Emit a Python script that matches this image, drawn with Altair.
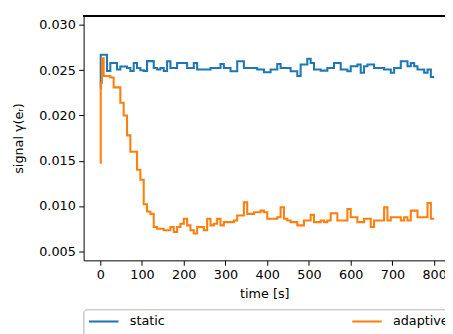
import altair as alt
import pandas as pd

time = [0, 1, 4] + list(range(8, 801, 8))

static = [
    0.0230, 0.0267, 0.0267,
    0.0267, 0.0249, 0.0258, 0.0258, 0.02507, 0.0254, 0.0254, 0.02525, 0.0249, 0.0258,
    0.02525, 0.0250, 0.0249, 0.0260, 0.0260, 0.02525, 0.02507, 0.02525, 0.0249, 0.02598,
    0.02525, 0.02525, 0.0258, 0.0258, 0.0258, 0.02525, 0.02525, 0.0258, 0.02507, 0.02507,
    0.02507, 0.02507, 0.02525, 0.02525, 0.02525, 0.02569, 0.02525, 0.02525, 0.02489, 0.02489,
    0.02598, 0.02598, 0.02525, 0.02525, 0.02525, 0.02525, 0.02507, 0.02507, 0.02478, 0.02478,
    0.02507, 0.02507, 0.02569, 0.02525, 0.02525, 0.02525, 0.02489, 0.02489, 0.02435, 0.02562,
    0.02562, 0.02627, 0.0258, 0.02507, 0.02507, 0.02495, 0.02495, 0.02525, 0.02525, 0.0258,
    0.0258, 0.02507, 0.02507, 0.02489, 0.02543, 0.02543, 0.02562, 0.02471, 0.02543, 0.02562,
    0.02562, 0.02525, 0.02525, 0.02525, 0.02507, 0.02507, 0.02471, 0.02525, 0.02525, 0.02598,
    0.02598, 0.02543, 0.0258, 0.02543, 0.02507, 0.02507, 0.02471, 0.02507, 0.02424, 0.02424,
]

adaptive = [
    0.01475, 0.0236, 0.0263,
    0.02435, 0.02435, 0.0242, 0.0231, 0.0231, 0.0214, 0.0200, 0.0178, 0.0160, 0.0160,
    0.0140, 0.0129, 0.0102, 0.0094, 0.00913, 0.00768, 0.0075, 0.0075, 0.00732, 0.00732,
    0.00768, 0.00714, 0.00768, 0.00804, 0.00859, 0.00786, 0.00732, 0.00696, 0.00768, 0.00768,
    0.00732, 0.00859, 0.00786, 0.00804, 0.00859, 0.00786, 0.00822, 0.00822, 0.00822, 0.00841,
    0.00895, 0.00895, 0.0104, 0.00913, 0.00913, 0.00931, 0.00931, 0.00949, 0.00931, 0.00859,
    0.00859, 0.00859, 0.00877, 0.00986, 0.00859, 0.00841, 0.00822, 0.00822, 0.00786, 0.00786,
    0.00841, 0.00841, 0.00902, 0.00822, 0.00822, 0.00841, 0.00822, 0.00841, 0.0092, 0.0092,
    0.00841, 0.00841, 0.00841, 0.00967, 0.00877, 0.00877, 0.00822, 0.00822, 0.00859, 0.00859,
    0.00768, 0.00841, 0.00841, 0.00841, 0.00986, 0.00841, 0.00877, 0.00877, 0.00877, 0.00841,
    0.00877, 0.00841, 0.00949, 0.00949, 0.00877, 0.00877, 0.00877, 0.01033, 0.00859, 0.00859,
]

series_names = ["static", "adaptive"]
series_colors = ["#1f77b4", "#ff7f0e"]
x_ticks = list(range(0, 801, 100))
y_ticks = [0.005, 0.010, 0.015, 0.020, 0.025, 0.030]

df = pd.concat([
    pd.DataFrame({"time": time, "signal": static, "series": "static"}),
    pd.DataFrame({"time": time, "signal": adaptive, "series": "adaptive"}),
])

W, H = 368, 249

lines = alt.Chart(df).mark_line(interpolate="step-after", strokeWidth=2.1, clip=True).encode(
    x=alt.X("time:Q",
            scale=alt.Scale(domain=[-40, 825.9], nice=False, zero=False),
            axis=alt.Axis(values=x_ticks, format="d", title="time [s]", titlePadding=6)),
    y=alt.Y("signal:Q",
            scale=alt.Scale(domain=[0.004, 0.031], nice=False, zero=False),
            axis=alt.Axis(values=y_ticks, format=".3f", title="signal γ(eᵣ)", titlePadding=13)),
    color=alt.Color("series:N",
                    scale=alt.Scale(domain=series_names, range=series_colors),
                    legend=alt.Legend(
                        title=None, orient="none", legendX=4, legendY=294.5,
                        direction="horizontal", columns=2, columnPadding=186,
                        symbolType="stroke", symbolSize=900, symbolStrokeWidth=2.1,
                        labelFontSize=13, labelColor="black", labelOffset=10,
                        padding=0)),
    order=alt.value(0),
)

top_spine = alt.Chart(df).mark_rule(color="black", strokeWidth=1).encode(
    x=alt.value(0), x2=alt.value(W + 5), y=alt.value(0)
)

legend_frame = alt.Chart(df).mark_rect(
    fill="white", stroke="#cccccc", strokeWidth=1, cornerRadius=3, clip=False
).encode(
    x=alt.value(0.5), x2=alt.value(W + 10), y=alt.value(299.5), y2=alt.value(345)
)

chart = alt.layer(lines, top_spine, legend_frame).properties(
    width=W, height=H,
    autosize=alt.AutoSizeParams(type="none"),
    padding={"left": 77, "top": 5, "right": 0, "bottom": 72},
).configure_view(stroke=None).configure_axis(
    labelFont="DejaVu Sans", titleFont="DejaVu Sans",
    labelFontSize=13, titleFontSize=13, titleFontWeight="normal",
    labelColor="black", titleColor="black",
    domainColor="black", tickColor="black", tickSize=5, labelPadding=3.5,
    grid=False,
).configure_legend(labelFont="DejaVu Sans")

chart.save("out.html", embed_options={"renderer": "svg", "actions": False})
